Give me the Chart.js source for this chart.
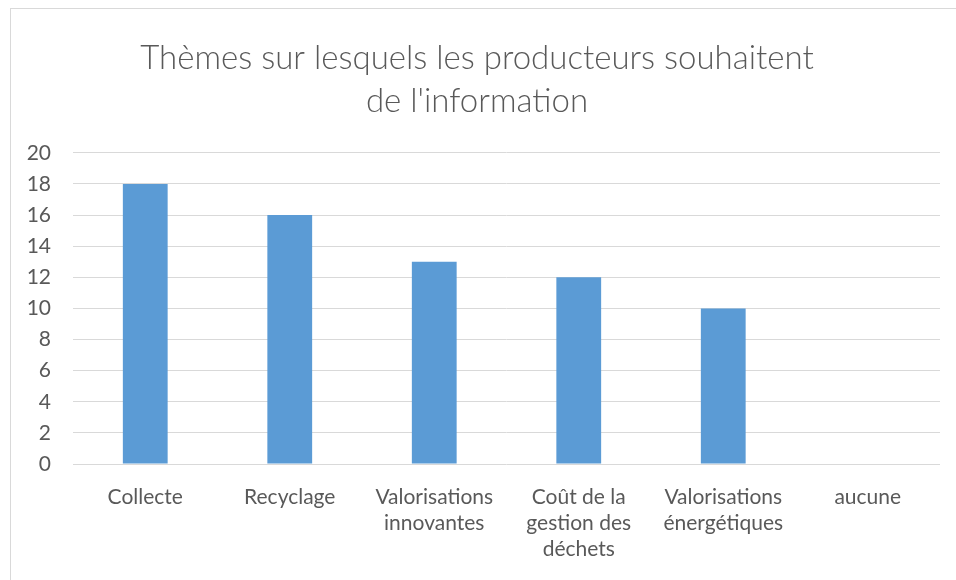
<!DOCTYPE html>
<html>
<head>
<meta charset="utf-8">
<script src="https://cdn.jsdelivr.net/npm/chart.js@4"></script>
<style>
  html, body { margin: 0; padding: 0; background: #fff; overflow: hidden; }
  #wrap { position: relative; width: 956px; height: 580px; }
  #frame { position: absolute; left: 10px; top: 8px; width: 960px; height: 590px;
           border: 1px solid #d9d9d9; box-sizing: border-box; pointer-events: none; }
</style>
</head>
<body>
<div id="wrap">
  <canvas id="chart" width="956" height="580"></canvas>
  <div id="frame"></div>
</div>
<script>
const themes = [
  'Collecte',
  'Recyclage',
  ['Valorisations', 'innovantes'],
  ['Coût de la', 'gestion des', 'déchets'],
  ['Valorisations', 'énergétiques'],
  'aucune'
];
const counts = [18, 16, 13, 12, 10, 0];
const titleLines = ['Thèmes sur lesquels les producteurs souhaitent', "de l'information"];

const grey = '#595959';

new Chart(document.getElementById('chart'), {
  type: 'bar',
  data: {
    labels: themes,
    datasets: [{
      data: counts,
      backgroundColor: '#5b9bd5',
      barPercentage: 0.31,
      categoryPercentage: 1
    }]
  },
  options: {
    responsive: false,
    animation: false,
    layout: { padding: { left: 14, right: 16, top: 0, bottom: 0 } },
    plugins: {
      legend: { display: false },
      tooltip: { enabled: false },
      title: {
        display: true,
        text: titleLines,
        color: grey,
        font: { family: 'Lato', size: 33, weight: 300, lineHeight: 1.33 },
        padding: { top: 36, bottom: 29 }
      }
    },
    scales: {
      x: {
        grid: { display: false },
        border: { display: false },
        ticks: {
          color: grey,
          padding: 12,
          maxRotation: 0,
          autoSkip: false,
          font: { family: 'Lato', size: 21, lineHeight: 1.24 }
        },
        afterFit: s => { s.height = 116; }
      },
      y: {
        min: 0,
        max: 20,
        grid: { color: '#d9d9d9', lineWidth: 1, drawTicks: false },
        border: { display: false },
        ticks: {
          stepSize: 2,
          color: grey,
          padding: 22,
          font: { family: 'Lato', size: 21 }
        },
        afterFit: s => { s.width = 59; }
      }
    }
  }
});
</script>
</body>
</html>
